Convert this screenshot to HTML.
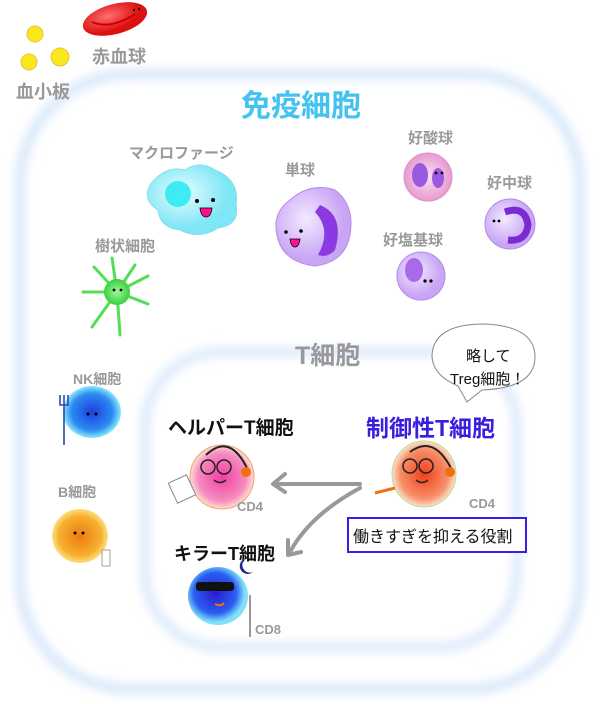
<!DOCTYPE html>
<html><head><meta charset="utf-8"><style>
html,body{margin:0;padding:0;background:#fff;width:600px;height:704px;overflow:hidden}
svg{display:block}
text{font-family:"Liberation Sans","Noto Sans CJK JP",sans-serif;font-weight:bold}
</style></head><body>
<svg width="600" height="704" viewBox="0 0 600 704">
<defs>
<filter id="blur" x="-10%" y="-10%" width="120%" height="120%"><feGaussianBlur stdDeviation="5"/></filter>
<radialGradient id="red" cx="40%" cy="35%"><stop offset="0" stop-color="#ff7070"/><stop offset="1" stop-color="#dd1010"/></radialGradient>
<radialGradient id="cyan" cx="40%" cy="40%"><stop offset="0" stop-color="#e6fdff"/><stop offset="1" stop-color="#7fe6f6"/></radialGradient>
<radialGradient id="purp" cx="40%" cy="40%"><stop offset="0" stop-color="#f3eaff"/><stop offset="1" stop-color="#c9a6f5"/></radialGradient>
<radialGradient id="pink" cx="50%" cy="50%"><stop offset="0" stop-color="#f9e0f2"/><stop offset="1" stop-color="#e79ad0"/></radialGradient>
<radialGradient id="green" cx="50%" cy="50%"><stop offset="0" stop-color="#9ff59f"/><stop offset="1" stop-color="#3ad13a"/></radialGradient>
<radialGradient id="blue" cx="50%" cy="50%"><stop offset="0" stop-color="#1e3ee0"/><stop offset="0.7" stop-color="#2a8af0"/><stop offset="1" stop-color="#8ae8fa"/></radialGradient>
<radialGradient id="org" cx="50%" cy="50%"><stop offset="0" stop-color="#f07a10"/><stop offset="0.75" stop-color="#f7b030"/><stop offset="1" stop-color="#fde080"/></radialGradient>
<radialGradient id="hpink" cx="50%" cy="50%"><stop offset="0" stop-color="#f03fa0"/><stop offset="0.75" stop-color="#f68cc0"/><stop offset="1" stop-color="#fde0d0"/></radialGradient>
<radialGradient id="treg" cx="50%" cy="50%"><stop offset="0" stop-color="#f0401a"/><stop offset="0.75" stop-color="#f8906a"/><stop offset="1" stop-color="#fde0c8"/></radialGradient>
<radialGradient id="kill" cx="45%" cy="45%"><stop offset="0" stop-color="#2a1ad0"/><stop offset="0.7" stop-color="#2a5ff0"/><stop offset="1" stop-color="#80e0fa"/></radialGradient>
</defs>

<rect x="20" y="74" width="560" height="615" rx="110" fill="none" stroke="#d6e6fb" stroke-width="10" filter="url(#blur)"/>
<rect x="145" y="352" width="372" height="295" rx="75" fill="none" stroke="#d9e7fb" stroke-width="9" filter="url(#blur)"/>

<ellipse cx="115" cy="19" rx="33" ry="15" transform="rotate(-15 115 19)" fill="url(#red)"/>
<path d="M92 22 Q110 30 135 14" stroke="#c00" stroke-width="2" fill="none"/>
<circle cx="134" cy="10" r="1.2"/><circle cx="139" cy="9" r="1.2"/>
<circle cx="35" cy="34" r="8" fill="#f8e81c" stroke="#f0c040"/>
<circle cx="29" cy="62" r="8" fill="#f8e81c" stroke="#f0c040"/>
<circle cx="60" cy="57" r="9" fill="#f8e81c" stroke="#f0c040"/>
<text x="92" y="63" font-size="18" fill="#999">赤血球</text>
<text x="16" y="98" font-size="18" fill="#999">血小板</text>

<text x="241" y="116" font-size="30" fill="#45c3f0">免疫細胞</text>

<text x="129" y="158" font-size="15" fill="#999">マクロファージ</text>
<path d="M150 185 Q165 165 185 170 Q200 160 215 170 Q240 180 236 205 Q240 225 218 228 Q200 240 180 230 Q160 228 158 210 Q142 200 150 185Z" fill="url(#cyan)" stroke="#7fe0f0"/>
<circle cx="178" cy="194" r="13" fill="#19e8f0" opacity="0.8"/>
<circle cx="197" cy="201" r="2"/><circle cx="213" cy="200" r="2"/>
<path d="M200 208 h12 q-1 9 -6 9 q-5 0 -6 -9z" fill="#ff1090" stroke="#000" stroke-width="0.8"/>

<text x="285" y="175" font-size="15" fill="#999">単球</text>
<path d="M290 200 Q310 182 335 190 Q355 205 350 235 Q345 262 315 266 Q282 262 277 235 Q272 213 290 200Z" fill="url(#purp)" stroke="#b48ae8"/>
<path d="M320 205 Q345 215 335 250 Q328 258 318 255 Q332 230 315 212Z" fill="#8a3ae0"/>
<circle cx="286" cy="232" r="1.8"/><circle cx="301" cy="231" r="1.8"/>
<path d="M290 239 h10 q-1 8 -5 8 q-4 0 -5 -8z" fill="#ff1090" stroke="#000" stroke-width="0.8"/>

<text x="408" y="143" font-size="15" fill="#999">好酸球</text>
<circle cx="428" cy="177" r="24" fill="url(#pink)" stroke="#e090c8"/>
<ellipse cx="420" cy="175" rx="8" ry="12" fill="#9a5ae0"/>
<ellipse cx="438" cy="178" rx="6" ry="10" fill="#9a5ae0"/>
<circle cx="436" cy="173" r="1.4"/><circle cx="442" cy="173" r="1.4"/>

<text x="487" y="188" font-size="15" fill="#999">好中球</text>
<circle cx="510" cy="224" r="25" fill="url(#purp)" stroke="#b48ae8"/>
<path d="M505 212 Q525 205 528 225 Q526 242 508 240" stroke="#7a2ad0" stroke-width="7" fill="none"/>
<circle cx="494" cy="221" r="1.4"/><circle cx="499" cy="221" r="1.4"/>

<text x="383" y="245" font-size="15" fill="#999">好塩基球</text>
<circle cx="421" cy="276" r="24" fill="url(#purp)" stroke="#b48ae8"/>
<ellipse cx="414" cy="270" rx="9" ry="12" fill="#a86ae8"/>
<circle cx="425" cy="281" r="1.6"/><circle cx="431" cy="281" r="1.6"/>

<text x="95" y="251" font-size="15" fill="#999">樹状細胞</text>
<g stroke="#55dd55" stroke-width="3" stroke-linecap="round">
<line x1="117" y1="292" x2="112" y2="258"/><line x1="117" y1="292" x2="135" y2="265"/>
<line x1="117" y1="292" x2="148" y2="276"/><line x1="117" y1="292" x2="148" y2="304"/>
<line x1="117" y1="292" x2="120" y2="335"/><line x1="117" y1="292" x2="92" y2="327"/>
<line x1="117" y1="292" x2="83" y2="292"/><line x1="117" y1="292" x2="94" y2="267"/>
</g>
<circle cx="117" cy="292" r="13" fill="url(#green)"/>
<circle cx="114" cy="290" r="1.4"/><circle cx="121" cy="290" r="1.4"/>

<text x="295" y="364" font-size="25" fill="#999">T細胞</text>

<path d="M458 386 Q432 375 432 355 Q434 324 484 324 Q535 326 535 357 Q535 388 482 390 L467 402 Z" fill="#fff" stroke="#888" stroke-width="1"/>
<text x="466" y="361" font-size="15" fill="#111" style="font-weight:normal">略して</text>
<text x="450" y="384" font-size="15" fill="#111" style="font-weight:normal">Treg細胞！</text>

<text x="73" y="384" font-size="14" fill="#999">NK細胞</text>
<ellipse cx="92" cy="412" rx="29" ry="26" fill="url(#blue)"/>
<path d="M64 400 L64 445 M60 395 v10 h8 v-10 M64 395 v10" stroke="#2a4ab0" stroke-width="1.6" fill="none"/>
<circle cx="88" cy="414" r="1.5"/><circle cx="96" cy="414" r="1.5"/>

<text x="58" y="497" font-size="14" fill="#999">B細胞</text>
<ellipse cx="80" cy="536" rx="28" ry="27" fill="url(#org)"/>
<circle cx="75" cy="533" r="1.5"/><circle cx="83" cy="533" r="1.5"/>
<rect x="102" y="550" width="8" height="16" fill="#fff" stroke="#888" stroke-width="0.8"/>

<text x="168" y="434" font-size="19" fill="#111">ヘルパーT細胞</text>
<ellipse cx="222" cy="477" rx="32" ry="32" fill="url(#hpink)" stroke="#f0a070"/>
<circle cx="208" cy="467" r="7" fill="none" stroke="#222" stroke-width="1.5"/>
<circle cx="224" cy="467" r="7" fill="none" stroke="#222" stroke-width="1.5"/>
<path d="M206 455 Q230 432 248 470" stroke="#222" stroke-width="2" fill="none"/>
<circle cx="246" cy="472" r="5" fill="#f07010"/>
<path d="M214 480 q6 5 12 0" stroke="#222" fill="none" stroke-width="1.5"/>
<rect x="172" y="478" width="20" height="22" fill="#fff" stroke="#888" transform="rotate(-25 182 489)"/>
<text x="237" y="511" font-size="13" fill="#999">CD4</text>

<text x="366" y="436" font-size="23" fill="#3a1ee0">制御性T細胞</text>
<ellipse cx="424" cy="474" rx="32" ry="33" fill="url(#treg)" stroke="#b0e0a0"/>
<circle cx="410" cy="466" r="7" fill="none" stroke="#222" stroke-width="1.5"/>
<circle cx="426" cy="466" r="7" fill="none" stroke="#222" stroke-width="1.5"/>
<path d="M410 452 Q434 434 452 470" stroke="#222" stroke-width="2" fill="none"/>
<circle cx="450" cy="472" r="5" fill="#f07010"/>
<path d="M416 480 q6 5 12 0" stroke="#222" fill="none" stroke-width="1.5"/>
<path d="M375 493 L395 488" stroke="#f07010" stroke-width="3"/>
<text x="469" y="508" font-size="13" fill="#999">CD4</text>
<rect x="348" y="518" width="178" height="34" fill="#fff" stroke="#3a1ee8" stroke-width="2"/>
<text x="353" y="542" font-size="16" fill="#111" style="font-weight:normal">働きすぎを抑える役割</text>

<g stroke="#999" stroke-width="4" fill="none" stroke-linecap="round" stroke-linejoin="round">
<path d="M360 484 L275 484"/><path d="M285 474 L273 484 L285 492"/>
<path d="M360 488 Q310 515 290 552"/><path d="M288 540 L288 555 L301 552"/>
</g>

<text x="174" y="560" font-size="18" fill="#111">キラーT細胞</text>
<ellipse cx="218" cy="596" rx="30" ry="29" fill="url(#kill)"/>
<rect x="196" y="582" width="38" height="9" rx="3" fill="#111"/>
<path d="M215 604 q5 3 9 -1" stroke="#f07010" stroke-width="2" fill="none"/>
<line x1="250" y1="595" x2="250" y2="637" stroke="#555" stroke-width="1.2"/>
<path d="M253 572 a8 8 0 1 1 -6 -14 a6 6 0 0 0 6 14z" fill="#1a2a90"/>
<text x="255" y="634" font-size="13" fill="#999">CD8</text>
</svg>
</body></html>
